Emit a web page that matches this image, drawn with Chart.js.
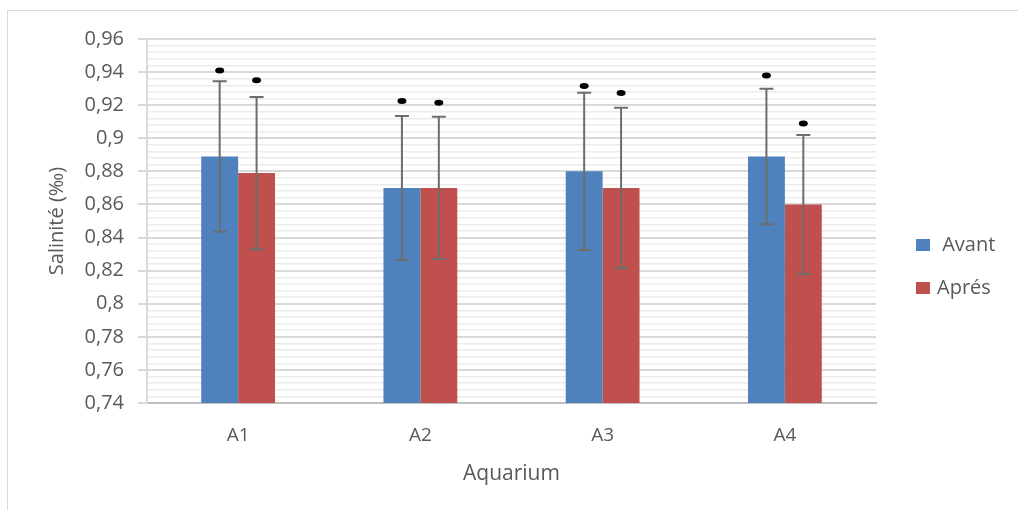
<!DOCTYPE html>
<html>
<head>
<meta charset="utf-8">
<script src="https://cdn.jsdelivr.net/npm/chart.js@4/dist/chart.umd.min.js"></script>
<style>
  html, body { margin: 0; padding: 0; background: #ffffff; }
  #wrap { position: relative; width: 1018px; height: 510px; }
  #frame { position: absolute; left: 7px; top: 10px; right: 0; bottom: 0; border-top: 1px solid #d9d9d9; border-left: 1px solid #d9d9d9; pointer-events: none; }
  canvas { position: absolute; left: 0; top: 0; }
</style>
</head>
<body>
<div id="wrap">
  <div id="frame"></div>
  <canvas id="c" width="1018" height="510"></canvas>
</div>
<script>
// ---- data ----
const categories = ['A1', 'A2', 'A3', 'A4'];
const seriesNames = [' Avant', 'Aprés'];
const avant = [0.889, 0.870, 0.880, 0.889];
const apres = [0.879, 0.870, 0.870, 0.860];
const avantErr = [0.0455, 0.0435, 0.0475, 0.041];
const apresErr = [0.046, 0.043, 0.0485, 0.042];
const avantMark = [0.941, 0.9225, 0.9316, 0.938];
const apresMark = [0.935, 0.9215, 0.9274, 0.909];
const yTickLabels = ['0,74','0,76','0,78','0,8','0,82','0,84','0,86','0,88','0,9','0,92','0,94','0,96'];
const yMinorPerMajor = 5;
const colors = ['#4f81bd', '#c0504d'];
const textColor = '#595959';
const fontFamily = '"Open Sans", sans-serif';

const majorVals = yTickLabels.map(s => parseFloat(s.replace(',', '.')));
const errs = [avantErr, apresErr];
const marks = [avantMark, apresMark];

const errorBarPlugin = {
  id: 'errorBars',
  afterDatasetsDraw(chart) {
    const ctx = chart.ctx;
    const ys = chart.scales.y;
    chart.data.datasets.forEach((ds, i) => {
      const meta = chart.getDatasetMeta(i);
      meta.data.forEach((bar, j) => {
        const v = ds.data[j];
        const e = errs[i][j];
        const x = bar.x;
        const yT = ys.getPixelForValue(v + e);
        const yB = ys.getPixelForValue(v - e);
        ctx.save();
        ctx.strokeStyle = '#6d6d6d';
        ctx.lineWidth = 2;
        ctx.beginPath();
        ctx.moveTo(x, yT); ctx.lineTo(x, yB);
        ctx.moveTo(x - 7, yT); ctx.lineTo(x + 7, yT);
        ctx.moveTo(x - 7, yB); ctx.lineTo(x + 7, yB);
        ctx.stroke();
        const ym = ys.getPixelForValue(marks[i][j]);
        ctx.fillStyle = '#000000';
        ctx.beginPath();
        ctx.ellipse(x, ym, 4.5, 3, 0, 0, Math.PI * 2);
        ctx.fill();
        ctx.restore();
      });
    });
  }
};

const legendPlugin = {
  id: 'sideLegend',
  afterDraw(chart) {
    const ctx = chart.ctx;
    const boxX = 916;
    const rowsY = [245, 288];
    ctx.save();
    ctx.font = '20px ' + fontFamily;
    ctx.textBaseline = 'middle';
    chart.data.datasets.forEach((ds, i) => {
      ctx.fillStyle = ds.backgroundColor;
      ctx.fillRect(boxX, rowsY[i] - 6, 14, 12);
      ctx.fillStyle = textColor;
      ctx.fillText(ds.label, boxX + 21, rowsY[i]);
    });
    ctx.restore();
  }
};

new Chart(document.getElementById('c'), {
  type: 'bar',
  data: {
    labels: categories,
    datasets: [
      { label: seriesNames[0], data: avant, backgroundColor: colors[0], borderWidth: 0 },
      { label: seriesNames[1], data: apres, backgroundColor: colors[1], borderWidth: 0 }
    ]
  },
  options: {
    responsive: false,
    animation: false,
    devicePixelRatio: 1,
    layout: { padding: { left: 0, right: 142, top: 39, bottom: 0 } },
    plugins: { legend: { display: false }, tooltip: { enabled: false } },
    datasets: { bar: { categoryPercentage: 0.405, barPercentage: 1.0 } },
    scales: {
      x: {
        grid: { drawOnChartArea: false, drawTicks: false },
        border: { display: true, color: '#bfbfbf', width: 2 },
        ticks: { color: textColor, font: { family: fontFamily, size: 19 }, padding: 21 },
        title: { display: true, text: 'Aquarium', color: textColor, font: { family: fontFamily, size: 21 }, padding: { top: 0, bottom: 23 } },
        afterFit(scale) { scale.height = 107; }
      },
      y: {
        min: majorVals[0],
        max: majorVals[majorVals.length - 1],
        afterBuildTicks(scale) {
          const t = [];
          for (let k = 0; k < majorVals.length; k++) {
            t.push({ value: majorVals[k], major: true });
            if (k < majorVals.length - 1) {
              const step = (majorVals[k + 1] - majorVals[k]) / yMinorPerMajor;
              for (let m = 1; m < yMinorPerMajor; m++) t.push({ value: majorVals[k] + step * m, major: false });
            }
          }
          scale.ticks = t;
        },
        grid: {
          color: c => (c.tick && c.tick.major) ? '#d9d9d9' : '#ececec',
          lineWidth: c => (c.tick && c.tick.major) ? 2 : 1.5,
          tickColor: c => (c.tick && c.tick.major) ? '#d9d9d9' : 'rgba(0,0,0,0)',
          tickLength: 9,
          drawTicks: true
        },
        border: { display: true, color: '#d9d9d9', width: 2 },
        ticks: {
          autoSkip: false,
          color: textColor,
          font: { family: fontFamily, size: 20 },
          padding: 14,
          callback: function(value, index, ticks) {
            const tk = ticks[index];
            if (!tk.major) return '';
            const k = majorVals.indexOf(tk.value);
            return k >= 0 ? yTickLabels[k] : '';
          }
        },
        title: { display: true, text: 'Salinité (‰)', color: textColor, font: { family: fontFamily, size: 20 }, padding: { top: 45, bottom: 0 } },
        afterFit(scale) { scale.width = 147; }
      }
    }
  },
  plugins: [errorBarPlugin, legendPlugin]
});
</script>
</body>
</html>
